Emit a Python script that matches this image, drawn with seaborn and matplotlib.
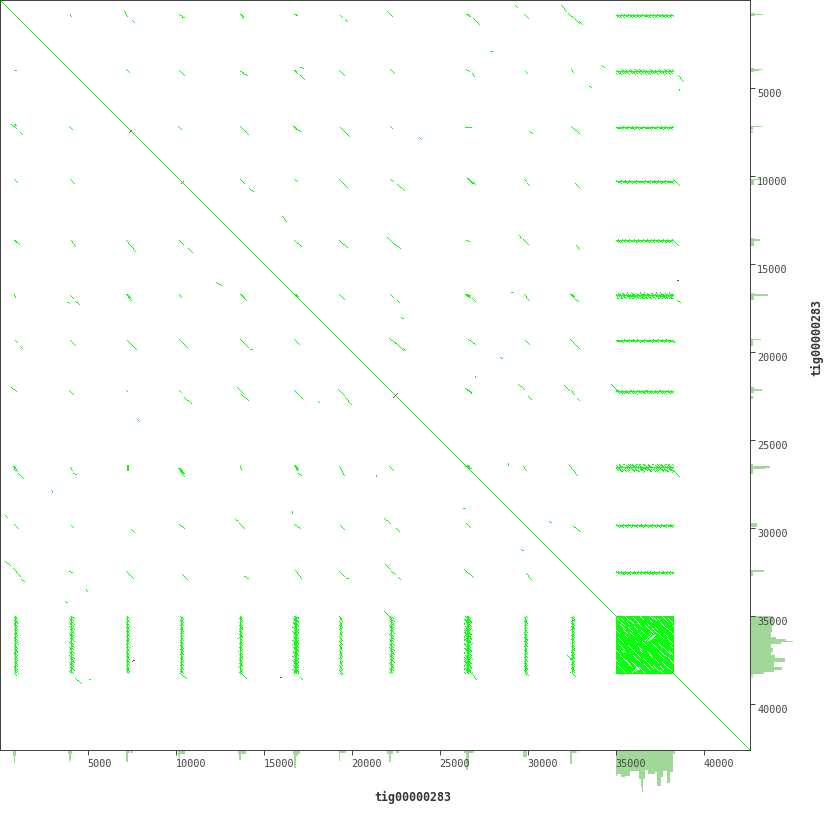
import numpy as np
import matplotlib
matplotlib.use("Agg")
import matplotlib.pyplot as plt
from matplotlib.colors import ListedColormap
from matplotlib.transforms import ScaledTranslation
import seaborn as sns

# ---- data: dot-plot hits, read in plot bins (1 bin = 56.8 bp) -------------
BIN_BP = 56.8
N_BINS = 750
NAME = "tig00000283"
TICKS = [5000, 10000, 15000, 20000, 25000, 30000, 35000, 40000]
BLOCK = (616, 674)

row_0 = [(70,14,71,16),(124,11,127,16),(132,20,134,22),(179,14,182,16),(182,17,184,17),(240,14,243,18),
         (294,14,297,15),(340,15,342,17),(345,20,347,21),(387,11,392,16),(466,14,470,16),(473,18,479,24),
         (515,5,517,7),(524,14,528,18),(561,5,566,11),(568,13,576,20),(576,20,579,23),(579,21,582,24)]
row_1 = [(14,70,16,70),(126,69,129,72),(179,70,184,75),(240,71,243,72),(243,73,247,75),(294,70,297,73),
         (300,67,303,68),(300,75,304,79),(339,70,344,75),(390,69,394,73),(466,69,469,71),(472,73,474,76),
         (490,51,492,51),(525,71,527,73),(571,69,573,72),(601,65,604,67),(589,86,591,87),(678,75,683,81),(679,89,679,90)]
row_2 = [(11,124,16,128),(20,132,22,134),(69,126,72,129),(178,126,181,129),(240,126,248,134),(293,126,300,131),
         (340,127,349,136),(390,126,392,128),(419,137,421,139),(465,127,470,127),(529,131,532,133),(571,126,579,133)]
row_3 = [(14,179,17,182),(70,179,74,183),(240,179,244,183),(249,188,253,191),(294,179,297,181),(339,179,347,187),
         (390,179,393,181),(397,184,404,190),(467,178,475,184),(524,179,526,181),(527,183,529,185),(575,183,579,187),
         (673,179,679,185),(282,216,286,221)]
row_4 = [(14,240,19,244),(71,240,75,246),(126,240,135,251),(179,240,183,244),(188,248,192,252),(294,240,301,246),
         (339,240,347,247),(387,237,391,241),(392,242,400,248),(466,240,469,241),(519,235,521,238),(523,239,528,244),
         (576,245,579,249),(673,240,678,245)]
row_5 = [(14,294,15,297),(70,295,73,298),(67,302,69,303),(75,301,79,304),(126,294,131,300),(179,294,181,297),
         (240,294,246,300),(216,282,221,285),(339,294,344,299),(390,294,393,297),(397,300,399,302),(466,295,470,297),
         (472,298,475,301),(401,317,403,318),(511,292,513,292),(524,294,529,300),(570,294,573,297),(574,298,578,301),
         (677,300,680,302)]
row_6 = [(15,340,17,342),(20,346,22,348),(70,340,75,345),(127,340,136,349),(179,339,187,347),(240,339,248,347),
         (294,339,299,344),(389,338,395,343),(395,342,403,350),(403,348,405,350),(468,339,475,344),(250,349,252,349),
         (525,340,529,344),(570,339,579,348),(500,357,502,358),(673,340,674,342)]
row_7 = [(11,387,16,391),(69,390,73,394),(126,390,127,391),(179,390,181,392),(184,397,191,403),(237,387,243,393),
         (241,394,248,400),(137,419,139,421),(294,390,302,398),(318,401,319,402),(338,389,344,395),(345,397,351,404),
         (465,388,471,393),(475,376,475,377),(518,384,524,389),(528,396,531,399),(564,385,569,390),(571,390,574,394),
         (577,398,579,400),(611,384,618,391)]
row_8 = [(14,466,17,471),(18,473,23,478),(70,467,72,470),(73,473,76,474),(127,465,127,470),(178,468,184,476),
         (240,466,241,469),(295,466,297,470),(298,473,301,475),(339,466,344,475),(389,466,393,470),(376,475,376,476),
         (508,463,508,465),(523,466,526,470),(569,465,577,475),(673,470,679,476),(51,490,52,492)]
row_9 = [(5,515,7,517),(14,524,18,528),(71,525,73,527),(131,529,134,532),(179,524,184,528),(235,519,238,521),
         (239,523,244,528),(292,511,292,513),(294,524,300,528),(340,525,344,529),(384,518,390,523),(396,528,399,531),
         (466,523,470,527),(463,508,465,508),(549,521,551,522),(573,526,580,531),(521,549,523,550)]
row_10 = [(5,561,10,565),(13,568,20,576),(21,579,24,581),(69,571,72,572),(86,589,87,591),(65,601,67,602),
          (126,571,133,578),(182,574,187,579),(244,576,248,578),(295,570,299,575),(298,574,301,578),(339,571,344,576),
          (346,578,348,578),(385,564,390,569),(391,571,395,574),(398,577,400,579),(464,569,473,577),(526,573,531,579)]
col_tails = [(14,673,16,675),(75,678,81,683),(89,679,90,679),(180,673,186,678),(241,673,246,678),(300,677,302,679),
             (340,673,342,674),(384,611,391,618),(471,673,476,679),(525,673,528,675),(572,673,575,676),(567,655,571,659)]
thick_hits = [(294,14,296,15),(466,14,468,15),(240,14,242,16),(14,240,16,242),(294,70,295,71),(293,126,296,129),
              (465,127,470,127),(467,178,472,183),(126,294,129,297),(240,294,243,297),(466,295,469,297),(571,294,573,296),
              (127,465,127,470),(179,468,183,473),(295,466,297,469),(466,389,470,392),(467,465,469,468),(295,294,297,296),
              (13,466,15,470),(14,124,15,125),(294,465,296,468),(465,294,469,295),(465,466,470,468)]

red_hits = [(18,18,19,19),(131,130,129,132),(183,181,181,183),(397,393,393,397),(134,660,132,661),(280,677,281,677),(677,280,678,280)]

band_centres = [15, 71, 127, 181, 240, 295, 340, 391, 467, 525, 572]
row_half = [1.0, 2.0, 0.7, 0.7, 1.0, 2.5, 0.7, 1.5, 3.5, 0.8, 1.2]
col_half = [1.5, 2.0, 1.0, 1.0, 1.5, 2.5, 0.8, 2.0, 3.5, 1.2, 1.5]
band_wobble = [0.2,-0.8,0.9,-0.3,0.6,-1.0,0.1,0.8,-0.6,0.4,-0.2,1.0,-0.9,0.3,-0.5,0.7,0.0,-0.7,0.5,0.9,-0.4,-1.0,0.6,0.2,-0.1,0.8,-0.8,0.4,-0.3]

block_gaps = [(617,618,7),(625,616,4),(633,617,5),(640,616,3),(653,617,3),(662,616,5),(668,618,4),
              (620,624,5),(628,627,4),(638,623,3),(645,625,8),(660,622,6),(667,628,5),
              (618,637,5),(630,632,3),(638,633,3),(658,633,5),(667,638,5),
              (618,643,6),(628,645,12),(642,641,5),(652,643,12),(663,647,7),
              (620,655,7),(633,655,7),(643,658,10),(658,653,5),(662,662,6),(668,657,4),
              (618,665,5),(628,663,4),(632,662,7),(653,665,5),(668,667,3),(640,668,4),
              (621,618,2),(637,621,2),(650,620,2),(657,618,2),(625,635,2),(635,640,2),(647,623,2),(655,627,2),
              (672,625,1),(640,650,2),(650,655,2),(623,650,2),(665,655,1),(670,645,2),(636,667,2),(648,668,2),(660,670,2),
              (626,621,3),(634,626,3),(652,628,4),(664,633,3),(623,629,4),(641,630,4),(672,633,1),(620,649,3),
              (638,646,3),(669,651,3),(626,660,3),(647,651,4),(655,659,3),(622,669,3),(660,666,3),(670,660,2),
              (644,664,3),(650,616,2),(630,620,3),(616,630,3),(616,650,3),(616,660,2),(658,643,3),(672,662,1)]
block_cross = [(645,640,6),(647,641,6),(649,640,5),(651,639,4),(632,672,5),(635,671,4)]

# marginal coverage: (start bin, end bin, depth)
stripe_cov_x = [(13,16,5),(14,15,12),(68,72,3),(69,71,9),(69,70,11),(126,130,2),(126,128,11),(131,133,2),
                (178,185,2.5),(178,180,5),(179,180,11),(238,246,3),(239,241,9),(293,300,3),(294,296,17),(295,298,5),
                (339,346,2),(339,340,10),(387,393,3),(389,391,11),(396,399,2),(464,474,2),(466,469,14),(466,468,19),
                (523,527,6),(570,576,2),(570,572,13),(577,578,2)]
stripe_cov_y = [(13,16,4),(14,15,12),(68,72,3),(69,70,11),(70,71,8),(126,127,11),(126,130,2),(131,133,2),
                (179,185,2.5),(179,180,11),(238,246,3),(239,241,9),(293,300,3),(294,296,17),(339,346,2),(339,340,10),
                (387,393,3),(389,391,11),(396,399,2),(464,474,2),(466,469,14),(466,468,19),(523,527,6),(570,576,2),(570,572,13)]
block_cov_x = [(616,617,25),(617,621,23),(621,625,26),(625,630,25),(630,637,20),(637,639,20),(639,641,28),(641,643,36),
               (642,643,41),(643,645,28),(645,648,19),(648,655,23),(655,657,21),(657,661,35),(661,663,26),(663,667,20),
               (667,670,32),(670,673,21),(673,675,3)]
block_cov_y = [(616,626,22),(626,628,21),(628,632,21),(632,637,20),(637,639,25),(639,641,35),(641,642,42),(642,644,30),
               (644,648,20),(648,652,22),(652,655,20),(655,658,24),(658,662,34),(662,665,23),(665,667,23),(667,670,31),
               (670,672,23),(672,674,13),(674,676,2),(677,678,2)]

GREEN = "#0AFF0F"
RED = "#E0103C"
COV = "#A2D79A"
INK = "#444444"
PX = 0.72       # one pixel in points at dpi 100

grid = np.zeros((N_BINS, N_BINS), dtype=int)


def paint(x0, y0, x1, y1, value=1):
    n = int(max(abs(x1 - x0), abs(y1 - y0))) + 1
    xs = np.clip(np.rint(np.linspace(x0, x1, n)).astype(int), 0, N_BINS - 1)
    ys = np.clip(np.rint(np.linspace(y0, y1, n)).astype(int), 0, N_BINS - 1)
    grid[ys, xs] = value


# self-alignment diagonal
paint(0, 0, N_BINS - 1, N_BINS - 1)

# repeats crossing the block, as rugged bands
for b, (c, rh, ch) in enumerate(zip(band_centres, row_half, col_half)):
    paint(BLOCK[0], c, BLOCK[1] - 1, c)
    for k, t in enumerate(range(BLOCK[0], BLOCK[1] - 1)):
        w = band_wobble[(k + 7 * b) % len(band_wobble)]
        w2 = band_wobble[(k + 11 * b + 13) % len(band_wobble)]
        paint(t, c + w * rh, t + 1, c + w * rh + 1)
        paint(c + w2 * ch, t, c + w2 * ch + 1, t + 1)
        if rh >= 2.5:
            paint(t, c + w2 * rh, t + 1, c + w2 * rh + 1)
        if ch >= 2.5:
            paint(c + w * ch, t, c + w * ch + 1, t + 1)
            paint(c, t, c + 1, t + 1)
        elif ch >= 1.0 and k % 2:
            paint(c, t, c, t + 1)

for hits in (row_0, row_1, row_2, row_3, row_4, row_5, row_6, row_7, row_8, row_9, row_10, col_tails):
    for seg in hits:
        paint(*seg)
for x0, y0, x1, y1 in thick_hits:
    paint(x0, y0, x1, y1)
    paint(x0 + 1, y0, x1 + 1, y1)

# dense satellite block with its thin gaps
grid[BLOCK[0]:BLOCK[1], BLOCK[0]:BLOCK[1]] = 1
for x, y, n in block_gaps:
    paint(x, y, x + n, y + n, 0)
for x, y, n in block_cross:
    paint(x, y, x + n, y - n, 0)
for seg in red_hits:
    paint(*seg, 2)

sns.set_style("white")
fig = plt.figure(figsize=(8.3, 8.3), dpi=100, facecolor="white")
W = 750 / 830
BOT = 80 / 830
TRACK = 79 / 830

ax_b = fig.add_axes([0, 0, W, TRACK], zorder=1)
ax_r = fig.add_axes([751 / 830, BOT, TRACK, W], zorder=1)
ax = fig.add_axes([0, BOT, W, W], zorder=3, facecolor="white")

sns.heatmap(grid, ax=ax, cmap=ListedColormap(["white", GREEN, RED]), vmin=0, vmax=2, cbar=False,
            xticklabels=False, yticklabels=False, square=False)

# axes
for s in ax.spines.values():
    s.set_visible(True)
    s.set_color(INK)
    s.set_linewidth(PX)
mono = {"family": "DejaVu Sans Mono", "size": 7.3, "color": INK}
tick_pos = [t / BIN_BP - 0.5 for t in TICKS]
ax.set_xticks(tick_pos)
ax.set_xticklabels([str(t) for t in TICKS], ha="left", rotation=0, **mono)
ax.yaxis.tick_right()
ax.set_yticks(tick_pos)
ax.set_yticklabels([str(t) for t in TICKS], va="top", rotation=0, **mono)
ax.tick_params(axis="both", direction="out", length=3.6, width=PX, color=INK, bottom=True, right=True,
               left=False, top=False)
ax.tick_params(axis="x", pad=3)
ax.tick_params(axis="y", pad=1.5)
for lab in ax.get_yticklabels():
    lab.set_transform(lab.get_transform() + ScaledTranslation(0, -1.5 / 100, fig.dpi_scale_trans))
ax.set_xlabel("")
ax.set_ylabel("")
fig.text(413 / 830, 1 - 797 / 830, NAME, ha="center", va="center", family="DejaVu Sans Mono",
         weight="bold", size=8.4, color="#333333")
fig.text(817 / 830, 1 - 337 / 830, NAME, ha="center", va="center", rotation=90, family="DejaVu Sans Mono",
         weight="bold", size=8.4, color="#333333")

# marginal coverage tracks
for s, e, d in stripe_cov_x + block_cov_x:
    ax_b.bar(s, d, width=e - s, align="edge", color=COV, lw=0, antialiased=False)
ax_b.set_xlim(0, N_BINS)
ax_b.set_ylim(79, 0)
ax_b.axis("off")
for s, e, d in stripe_cov_y + block_cov_y:
    ax_r.barh(s, d, height=e - s, align="edge", color=COV, lw=0, antialiased=False)
ax_r.set_ylim(N_BINS, 0)
ax_r.set_xlim(0, 79)
ax_r.axis("off")

fig.savefig("out.png", dpi=100, facecolor="white")
